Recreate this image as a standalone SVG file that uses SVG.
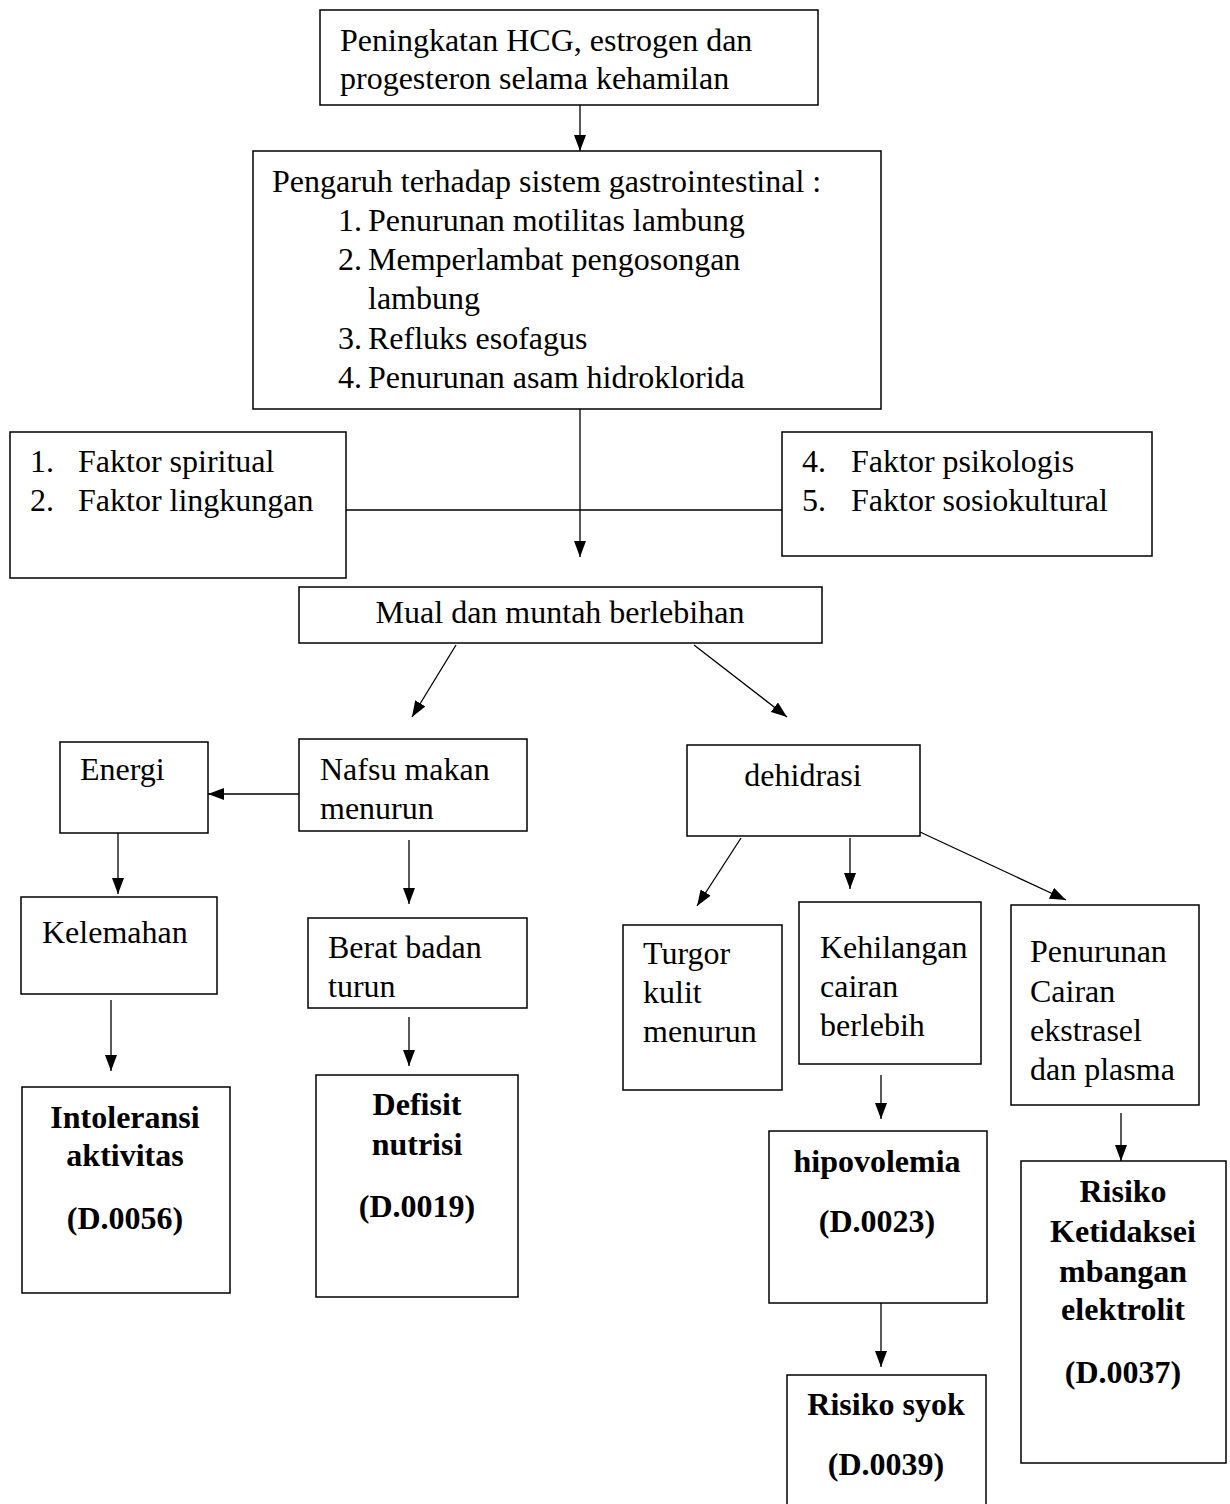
<svg xmlns="http://www.w3.org/2000/svg" width="1230" height="1504" viewBox="0 0 1230 1504">
<defs>
<marker id="ah" viewBox="0 0 16 12" refX="16" refY="6" markerWidth="16" markerHeight="12" markerUnits="userSpaceOnUse" orient="auto">
<path d="M0,0 L16,6 L0,12 Z" fill="#000"/>
</marker>
</defs>
<style>
rect{fill:#fff;stroke:#000;stroke-width:1.5}
text{font-family:"Liberation Serif","Times New Roman",serif;font-size:32px;fill:#000}
.b{font-weight:bold;text-anchor:middle}
.c{text-anchor:middle}
#edges line{stroke:#000;stroke-width:1.3}
</style>
<rect x="0" y="0" width="1230" height="1504" style="fill:#fff;stroke:none"/>
<g id="n1"><rect x="320" y="10" width="498" height="95"/>
<text x="340" y="51">Peningkatan HCG, estrogen dan</text>
<text x="340" y="89">progesteron selama kehamilan</text></g>
<g id="n2"><rect x="253" y="151" width="628" height="258"/>
<text x="272" y="192">Pengaruh terhadap sistem gastrointestinal :</text>
<text x="338" y="231">1.</text><text x="368" y="231">Penurunan motilitas lambung</text>
<text x="338" y="270">2.</text><text x="368" y="270">Memperlambat pengosongan</text>
<text x="368" y="309">lambung</text>
<text x="338" y="349">3.</text><text x="368" y="349">Refluks esofagus</text>
<text x="338" y="388">4.</text><text x="368" y="388">Penurunan asam hidroklorida</text></g>
<g id="n3"><rect x="10" y="432" width="336" height="146"/>
<text x="30" y="472">1.</text><text x="78" y="472">Faktor spiritual</text>
<text x="30" y="511">2.</text><text x="78" y="511">Faktor lingkungan</text></g>
<g id="n4"><rect x="782" y="432" width="370" height="124"/>
<text x="802" y="472">4.</text><text x="851" y="472">Faktor psikologis</text>
<text x="802" y="511">5.</text><text x="851" y="511">Faktor sosiokultural</text></g>
<g id="n5"><rect x="299" y="587" width="523" height="56"/>
<text class="c" x="560" y="623">Mual dan muntah berlebihan</text></g>
<g id="n6"><rect x="60" y="742" width="148" height="91"/>
<text x="80" y="780">Energi</text></g>
<g id="n7"><rect x="299" y="739" width="228" height="92"/>
<text x="320" y="780">Nafsu makan</text>
<text x="320" y="819">menurun</text></g>
<g id="n8"><rect x="687" y="745" width="233" height="91"/>
<text class="c" x="803" y="786">dehidrasi</text></g>
<g id="n9"><rect x="21" y="897" width="196" height="97"/>
<text x="42" y="943">Kelemahan</text></g>
<g id="n10"><rect x="308" y="918" width="219" height="90"/>
<text x="328" y="958">Berat badan</text>
<text x="328" y="997">turun</text></g>
<g id="n11"><rect x="623" y="925" width="159" height="165"/>
<text x="643" y="964">Turgor</text>
<text x="643" y="1003">kulit</text>
<text x="643" y="1042">menurun</text></g>
<g id="n12"><rect x="799" y="902" width="182" height="162"/>
<text x="820" y="958">Kehilangan</text>
<text x="820" y="997">cairan</text>
<text x="820" y="1036">berlebih</text></g>
<g id="n13"><rect x="1011" y="905" width="188" height="200"/>
<text x="1030" y="962">Penurunan</text>
<text x="1030" y="1002">Cairan</text>
<text x="1030" y="1041">ekstrasel</text>
<text x="1030" y="1080">dan plasma</text></g>
<g id="n14"><rect x="22" y="1087" width="208" height="206"/>
<text class="b" x="125" y="1128">Intoleransi</text>
<text class="b" x="125" y="1166">aktivitas</text>
<text class="b" x="125" y="1229">(D.0056)</text></g>
<g id="n15"><rect x="316" y="1075" width="202" height="222"/>
<text class="b" x="417" y="1115">Defisit</text>
<text class="b" x="417" y="1155">nutrisi</text>
<text class="b" x="417" y="1217">(D.0019)</text></g>
<g id="n16"><rect x="769" y="1131" width="218" height="172"/>
<text class="b" x="877" y="1172">hipovolemia</text>
<text class="b" x="877" y="1232">(D.0023)</text></g>
<g id="n17"><rect x="787" y="1375" width="199" height="140"/>
<text class="b" x="886" y="1415">Risiko syok</text>
<text class="b" x="886" y="1475">(D.0039)</text></g>
<g id="n18"><rect x="1021" y="1161" width="205" height="302"/>
<text class="b" x="1123" y="1202">Risiko</text>
<text class="b" x="1123" y="1242">Ketidaksei</text>
<text class="b" x="1123" y="1282">mbangan</text>
<text class="b" x="1123" y="1320">elektrolit</text>
<text class="b" x="1123" y="1383">(D.0037)</text></g>
<g id="edges">
<line x1="580" y1="105" x2="580" y2="151" marker-end="url(#ah)"/>
<line x1="580" y1="409" x2="580" y2="557" marker-end="url(#ah)"/>
<line x1="346" y1="510" x2="782" y2="510"/>
<line x1="456" y1="645" x2="412" y2="717" marker-end="url(#ah)"/>
<line x1="694" y1="645" x2="787" y2="717" marker-end="url(#ah)"/>
<line x1="299" y1="794" x2="208" y2="794" marker-end="url(#ah)"/>
<line x1="118" y1="833" x2="118" y2="894" marker-end="url(#ah)"/>
<line x1="409" y1="840" x2="409" y2="904" marker-end="url(#ah)"/>
<line x1="741" y1="838" x2="697" y2="906" marker-end="url(#ah)"/>
<line x1="850" y1="838" x2="850" y2="889" marker-end="url(#ah)"/>
<line x1="920" y1="832" x2="1066" y2="900" marker-end="url(#ah)"/>
<line x1="111" y1="1000" x2="111" y2="1071" marker-end="url(#ah)"/>
<line x1="409" y1="1017" x2="409" y2="1066" marker-end="url(#ah)"/>
<line x1="881" y1="1075" x2="881" y2="1119" marker-end="url(#ah)"/>
<line x1="1121" y1="1113" x2="1121" y2="1161" marker-end="url(#ah)"/>
<line x1="881" y1="1303" x2="881" y2="1367" marker-end="url(#ah)"/>
</g>
</svg>
